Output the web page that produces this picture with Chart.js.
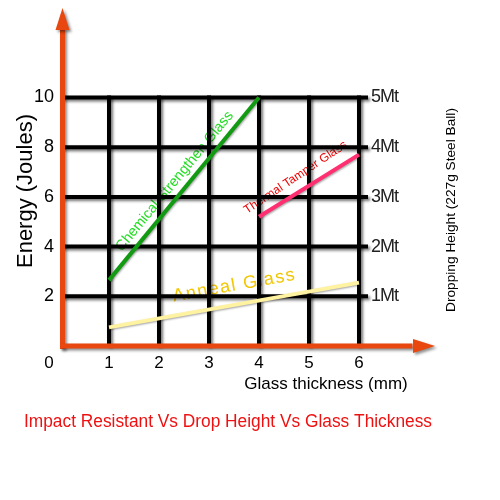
<!DOCTYPE html>
<html>
<head>
<meta charset="utf-8">
<script src="https://cdn.jsdelivr.net/npm/chart.js@4.4.1/dist/chart.umd.min.js"></script>
<style>
  html, body { margin: 0; padding: 0; background: #fff; }
  canvas { display: block; }
</style>
</head>
<body>
<canvas id="chart" width="500" height="500"></canvas>
<script>

/* ===== data ===== */

const chemThickness = [1, 4]
const chemEnergy = [2.65, 10]

const temperThickness = [4, 6]
const temperEnergy = [5.2, 7.7]

const annealThickness = [1, 6]
const annealEnergy = [0.75, 2.55]

const xTicks = [1, 2, 3, 4, 5, 6]
const yTicks = [2, 4, 6, 8, 10]
const dropLabels = ["1Mt", "2Mt", "3Mt", "4Mt", "5Mt"]

const seriesNames = [
  "Chemical Strengthen Glass",
  "Thermal Tamper Glass",
  "Anneal Glass"
]


function points(xs, ys) {
  return xs.map((x, i) => ({ x: x, y: ys[i] }))
}


/* ===== drawing helpers ===== */

const FONT = "'Liberation Sans', Arial, sans-serif"
const ORANGE = "#e8470f"

const lineLabels = [
  { ds: 0, t: 0.5, off: 12, size: 14.5, color: "#22dd22", rot: 0, spacing: 0 },
  { ds: 1, t: 0.44, off: 14, size: 12, color: "#ee0000", rot: -2, spacing: 0 },
  { ds: 2, t: 0.515, off: 19, size: 18, color: "#f2c600", rot: 0, spacing: 1.5 }
]

const decorations = {

  id: "decorations",

  beforeDatasetsDraw(chart) {

    const ctx = chart.ctx
    const xs = chart.scales.x
    const ys = chart.scales.y

    /* labels along the lines, under the grid */
    lineLabels.forEach(l => {
      const d = chart.data.datasets[l.ds].data
      const x0 = xs.getPixelForValue(d[0].x)
      const y0 = ys.getPixelForValue(d[0].y)
      const x1 = xs.getPixelForValue(d[1].x)
      const y1 = ys.getPixelForValue(d[1].y)
      const ang = Math.atan2(y1 - y0, x1 - x0)
      const cx = x0 + (x1 - x0) * l.t + Math.sin(ang) * l.off
      const cy = y0 + (y1 - y0) * l.t - Math.cos(ang) * l.off
      ctx.save()
      ctx.translate(cx, cy)
      ctx.rotate(ang + l.rot * Math.PI / 180)
      ctx.font = l.size + "px " + FONT
      ctx.letterSpacing = l.spacing + "px"
      ctx.fillStyle = l.color
      ctx.textAlign = "center"
      ctx.textBaseline = "middle"
      ctx.fillText(chart.data.datasets[l.ds].label, 0, 0)
      ctx.restore()
    })

    /* black grid with a soft shadow */
    ctx.save()
    ctx.strokeStyle = "#000"
    ctx.lineWidth = 4
    ctx.lineCap = "butt"
    ctx.shadowColor = "rgba(0,0,0,0.55)"
    ctx.shadowBlur = 3
    ctx.shadowOffsetX = 2
    ctx.shadowOffsetY = 2

    const left = xs.getPixelForValue(0.07)
    const right = xs.getPixelForValue(6.18)
    yTicks.forEach(v => {
      const y = ys.getPixelForValue(v)
      ctx.beginPath()
      ctx.moveTo(left, y)
      ctx.lineTo(right, y)
      ctx.stroke()
    })

    const top = ys.getPixelForValue(10) - 2
    const bottom = ys.getPixelForValue(0)
    xTicks.forEach(v => {
      const x = xs.getPixelForValue(v)
      ctx.beginPath()
      ctx.moveTo(x, bottom)
      ctx.lineTo(x, top)
      ctx.stroke()
    })
    ctx.restore()
  },

  beforeDatasetDraw(chart) {
    const ctx = chart.ctx
    ctx.save()
    ctx.shadowColor = "rgba(0,0,0,0.35)"
    ctx.shadowBlur = 2
    ctx.shadowOffsetX = 1
    ctx.shadowOffsetY = 1
  },

  afterDatasetDraw(chart) {
    chart.ctx.restore()
  },

  afterDatasetsDraw(chart) {

    const ctx = chart.ctx
    const xs = chart.scales.x
    const ys = chart.scales.y

    const ax = xs.getPixelForValue(0.07)
    const ay = ys.getPixelForValue(0)
    const topY = ys.getPixelForValue(13.6)
    const rightX = xs.getPixelForValue(7.52)

    /* orange axes with arrow heads */
    ctx.save()
    ctx.shadowColor = "rgba(0,0,0,0.45)"
    ctx.shadowBlur = 3
    ctx.shadowOffsetX = 2
    ctx.shadowOffsetY = 2
    ctx.fillStyle = ORANGE

    ctx.fillRect(ax - 2.5, topY + 20, 5, ay - topY - 17)
    ctx.fillRect(ax - 2.5, ay - 2.5, rightX - ax - 20, 5)

    ctx.beginPath()
    ctx.moveTo(ax, topY)
    ctx.lineTo(ax + 7, topY + 22)
    ctx.lineTo(ax - 7, topY + 22)
    ctx.closePath()
    ctx.fill()

    ctx.beginPath()
    ctx.moveTo(rightX, ay)
    ctx.lineTo(rightX - 22, ay - 7)
    ctx.lineTo(rightX - 22, ay + 7)
    ctx.closePath()
    ctx.fill()
    ctx.restore()

    /* tick labels */
    ctx.save()
    ctx.fillStyle = "#000"
    ctx.font = "18px " + FONT
    ctx.textBaseline = "middle"

    ctx.textAlign = "right"
    yTicks.forEach(v => {
      ctx.fillText(String(v), 54, ys.getPixelForValue(v))
    })

    ctx.font = "17px " + FONT
    ctx.textAlign = "center"
    ctx.fillText("0", xs.getPixelForValue(0) - 10, ay + 17)
    xTicks.forEach(v => {
      ctx.fillText(String(v), xs.getPixelForValue(v), ay + 17)
    })

    ctx.font = "18px " + FONT
    ctx.letterSpacing = "-1px"
    ctx.fillStyle = "#222"
    ctx.textAlign = "left"
    yTicks.forEach((v, i) => {
      ctx.fillText(dropLabels[i], xs.getPixelForValue(6.24), ys.getPixelForValue(v))
    })
    ctx.letterSpacing = "0px"

    /* axis titles */
    ctx.fillStyle = "#000"
    ctx.textAlign = "center"
    ctx.font = "17px " + FONT
    ctx.fillText("Glass thickness (mm)", 326, 384, 166)

    ctx.save()
    ctx.translate(26, 191)
    ctx.rotate(-Math.PI / 2)
    ctx.font = "22px " + FONT
    ctx.fillText("Energy (Joules)", 0, 0, 158)
    ctx.restore()

    ctx.save()
    ctx.translate(451, 210)
    ctx.rotate(-Math.PI / 2)
    ctx.font = "13.7px " + FONT
    ctx.fillText("Dropping Height (227g Steel Ball)", 0, 0, 204)
    ctx.restore()

    /* title */
    ctx.fillStyle = "#ee1111"
    ctx.font = "17.5px " + FONT
    ctx.fillText("Impact Resistant Vs Drop Height Vs Glass Thickness", 228, 422, 408)
    ctx.restore()
  }
}


/* ===== chart ===== */

const ctx = document.getElementById("chart").getContext("2d")

new Chart(ctx, {

  type: "line",

  data: {

    datasets: [

      {
        label: seriesNames[0],
        data: points(chemThickness, chemEnergy),
        borderColor: "#139a13",
        borderWidth: 4
      },

      {
        label: seriesNames[1],
        data: points(temperThickness, temperEnergy),
        borderColor: "#ff2f72",
        borderWidth: 4
      },

      {
        label: seriesNames[2],
        data: points(annealThickness, annealEnergy),
        borderColor: "#fff2a0",
        borderWidth: 4
      }

    ]

  },

  options: {

    responsive: false,
    animation: false,

    layout: {
      padding: { left: 59, right: 66, top: 8, bottom: 154 }
    },

    elements: {
      point: { radius: 0, hoverRadius: 0 },
      line: { tension: 0, borderCapStyle: "butt" }
    },

    scales: {
      x: { type: "linear", min: 0, max: 7.5, display: false },
      y: { type: "linear", min: 0, max: 13.6, display: false }
    },

    plugins: {
      legend: { display: false },
      tooltip: { enabled: false }
    }

  },

  plugins: [decorations]

})

</script>
</body>
</html>
